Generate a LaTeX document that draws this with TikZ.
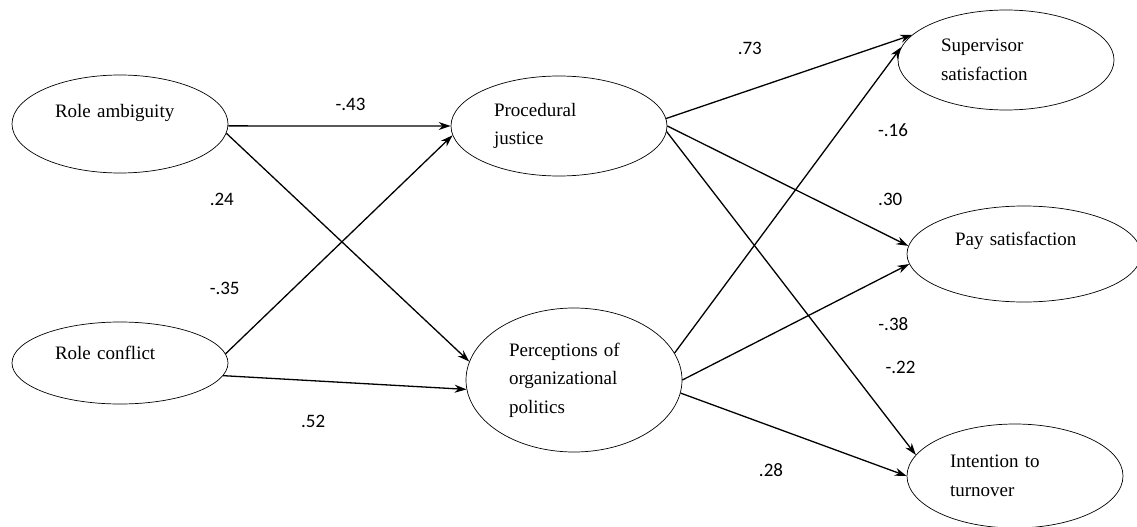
\documentclass[tikz,border=0pt]{standalone}
\usepackage{fontspec}
\setmainfont{Liberation Serif}
\setsansfont{Carlito}
\usetikzlibrary{shapes.geometric,arrows.meta}
\begin{document}
\begin{tikzpicture}[->, >={Stealth[length=12pt,width=8pt]}, line width=1.3pt, x=1pt, y=1pt, node distance=239pt,main node/.style={ellipse, draw, line width=0.7pt, minimum width=216pt, minimum height=100pt, inner sep=2pt, text width=130pt, align=left, font=\rmfamily\fontsize{19}{28.5}\selectfont}]
                \tikzstyle{every node}=[font=\fontsize{19}{28.5}\selectfont]
                \useasboundingbox (0,0) rectangle (1137,-527);

                  \node[main node, minimum height=98pt] (1) at (120,-124) {Role ambiguity\\[-10pt]\strut};
                  \node[main node, minimum height=82pt] (2) [below of=1] {Role conflict\\[-16pt]\strut};
                  \node[main node] (3) [node distance=439pt, right of=1, yshift=-2pt] {Procedural\\justice};
                  \node[main node, minimum height=144pt] (4) [node distance=454pt, right of=2, yshift=-17pt] {Perceptions of\\organizational\\politics};
                  \node[main node] (5) [node distance=447pt, right of=3, yshift=66pt] {Supervisor\\satisfaction};
                  \node[main node, minimum width=234pt, minimum height=96pt, text width=138pt] (6) [node distance=465pt, right of=3, yshift=-128pt] {Pay satisfaction\\[-6pt]\strut};
                  \node[main node, minimum height=104pt] (7) [node distance=441pt, right of=4, yshift=-96pt] {Intention to\\turnover};

                  \path[every node/.style={font=\sffamily\fontsize{19}{22}\selectfont}]
                    (1.-1) edge node [pos=.55, yshift=22pt] {-.43} (3.west)
                    (1.-5) edge node [pos=.29, xshift=-75pt] {.24} (4.170)
                    (2.5) edge node [pos=.3, xshift=-69pt] {-.35} (3.185)
                    (2.-7) edge node [pos=.37, yshift=-41pt] {.52} (4.185)
                    (3.4) edge node [pos=.34, yshift=42pt] {.73} (5.165)
                    (3.east) edge node [pos=.925, yshift=38pt] {.30} (6.176)
                    (3.-3) edge node [pos=.73, xshift=52pt] {-.22} (7.168)
                    (4.15) edge node [pos=.73, xshift=53pt] {-.16} (5.173)
                    (4.east) edge node [pos=.93, yshift=-52pt] {-.38} (6.-175)
                    (4.-7) edge node [pos=.4, yshift=-44pt] {.28} (7.west);

                \end{tikzpicture}
\end{document}
